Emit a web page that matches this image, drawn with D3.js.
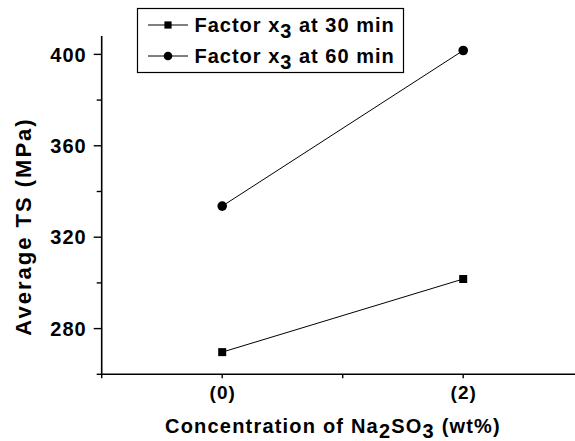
<!DOCTYPE html>
<html>
<head>
<meta charset="utf-8">
<script src="https://cdn.jsdelivr.net/npm/d3@7"></script>
<style>
  body { margin: 0; background: #fff; }
  svg { display: block; }
  text { font-family: "Liberation Sans", Arial, sans-serif; font-weight: bold; fill: #000; }
</style>
</head>
<body>
<svg id="chart" width="575" height="441"></svg>
<script>
// Sodium sulfite concentration levels (coded) and their axis labels
const categories = [0, 2];
const categoryLabels = ["(0)", "(2)"];

// Average tensile strength (MPa) for each immersion time
const ts30min = [269.7, 301.7];
const ts60min = [333.6, 401.7];

// Legend text pieces: "Factor x" + subscript "3" + suffix
const legendPrefix = "Factor x";
const legendSub = "3";
const legendSuffix = [" at 30 min", " at 60 min"];

// Axis ticks
const yMajorTicks = [280, 320, 360, 400];
const yMinorTicks = [260, 300, 340, 380];
const xMinorTicks = [-1, 1, 3];

const svg = d3.select("#chart");

const x = d3.scaleLinear().domain([-1, 3]).range([101.7, 583.7]);
const y = d3.scaleLinear().domain([260, 408]).range([374.3, 36.1]);

const axisColor = "#000";

// ---- Y axis ----
const yAxis = svg.append("g").attr("transform", `translate(${x(-1)},0)`);
yAxis.append("line")
  .attr("x1", 0).attr("x2", 0)
  .attr("y1", y.range()[0]).attr("y2", y.range()[1])
  .attr("stroke", axisColor).attr("stroke-width", 1.6);
yAxis.selectAll(".ymaj").data(yMajorTicks).join("line")
  .attr("class", "ymaj")
  .attr("x1", -8).attr("x2", 0)
  .attr("y1", d => y(d)).attr("y2", d => y(d))
  .attr("stroke", axisColor).attr("stroke-width", 1.4);
yAxis.selectAll(".ymin").data(yMinorTicks).join("line")
  .attr("class", "ymin")
  .attr("x1", -5).attr("x2", 0)
  .attr("y1", d => y(d)).attr("y2", d => y(d))
  .attr("stroke", axisColor).attr("stroke-width", 1.4);
yAxis.selectAll(".ylab").data(yMajorTicks).join("text")
  .attr("class", "ylab")
  .attr("x", -15).attr("y", d => y(d))
  .attr("dy", "0.36em")
  .attr("text-anchor", "end")
  .style("font-size", "20px")
  .style("letter-spacing", "1px")
  .text(d => d);

// ---- X axis ----
const xAxis = svg.append("g").attr("transform", `translate(0,${y(260)})`);
xAxis.append("line")
  .attr("x1", x(-1)).attr("x2", x(3))
  .attr("y1", 0).attr("y2", 0)
  .attr("stroke", axisColor).attr("stroke-width", 1.6);
xAxis.selectAll(".xmaj").data(categories).join("line")
  .attr("class", "xmaj")
  .attr("x1", d => x(d)).attr("x2", d => x(d))
  .attr("y1", 0).attr("y2", 4)
  .attr("stroke", axisColor).attr("stroke-width", 1.4);
xAxis.selectAll(".xmin").data(xMinorTicks).join("line")
  .attr("class", "xmin")
  .attr("x1", d => x(d)).attr("x2", d => x(d))
  .attr("y1", 0).attr("y2", 4)
  .attr("stroke", axisColor).attr("stroke-width", 1.4);
xAxis.selectAll(".xlab").data(categories).join("text")
  .attr("class", "xlab")
  .attr("x", (d) => x(d) + 0.5).attr("y", 24.7)
  .attr("text-anchor", "middle")
  .style("font-size", "19px")
  .style("letter-spacing", "1px")
  .text((d, i) => categoryLabels[i]);

// ---- Axis titles ----
const xTitle = svg.append("text")
  .attr("x", 333).attr("y", 432.5)
  .attr("text-anchor", "middle")
  .style("font-size", "20px")
  .style("letter-spacing", "1.2px");
xTitle.append("tspan").text("Concentration of Na");
xTitle.append("tspan").attr("dy", 5).text("2");
xTitle.append("tspan").attr("dy", -5).text("SO");
xTitle.append("tspan").attr("dy", 5).text("3");
xTitle.append("tspan").attr("dy", -5).text(" (wt%)");

svg.append("text")
  .attr("transform", "translate(31,226.5) rotate(-90)")
  .attr("text-anchor", "middle")
  .style("font-size", "22px")
  .style("letter-spacing", "2px")
  .text("Average TS (MPa)");

// ---- Series ----
const line = d3.line().x((d, i) => x(categories[i])).y(d => y(d));
const series = [
  { values: ts30min, marker: "square" },
  { values: ts60min, marker: "circle" }
];

function drawMarker(g, type, cx, cy, scale) {
  if (type === "square") {
    const s = 8 * scale;
    g.append("rect").attr("x", cx - s / 2).attr("y", cy - s / 2)
      .attr("width", s).attr("height", s).attr("fill", "#000");
  } else {
    g.append("circle").attr("cx", cx).attr("cy", cy)
      .attr("r", 4.8 * scale).attr("fill", "#000");
  }
}

const plot = svg.append("g");
series.forEach(s => {
  plot.append("path").datum(s.values)
    .attr("d", line)
    .attr("fill", "none").attr("stroke", "#000").attr("stroke-width", 1);
  s.values.forEach((v, i) => drawMarker(plot, s.marker, x(categories[i]), y(v), 1));
});

// ---- Legend ----
const legend = svg.append("g");
legend.append("rect")
  .attr("x", 137.5).attr("y", 8.5).attr("width", 266).attr("height", 64)
  .attr("fill", "#fff").attr("stroke", "#000").attr("stroke-width", 1.2);
const rowY = [25, 56];
const rowBaseline = [31.7, 62.7];
series.forEach((s, i) => {
  const cy = rowY[i];
  legend.append("line")
    .attr("x1", 148).attr("x2", 188).attr("y1", cy).attr("y2", cy)
    .attr("stroke", "#000").attr("stroke-width", 1);
  drawMarker(legend, s.marker, 168, cy, 0.9);
  const t = legend.append("text")
    .attr("x", 194.5).attr("y", rowBaseline[i])
    .style("font-size", "20px")
    .style("letter-spacing", "1px");
  t.append("tspan").text(legendPrefix);
  t.append("tspan").attr("dy", 6.5).text(legendSub);
  t.append("tspan").attr("dy", -6.5).text(legendSuffix[i]);
});
</script>
</body>
</html>
